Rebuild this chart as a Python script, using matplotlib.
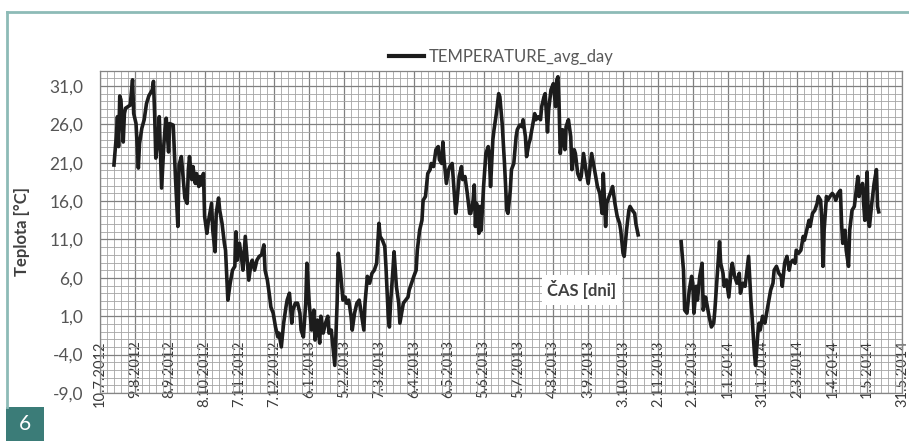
import numpy as np
import pandas as pd
import matplotlib
matplotlib.use("Agg")
import matplotlib.pyplot as plt
from matplotlib.lines import Line2D
from matplotlib.patches import Rectangle

start = pd.Timestamp("2012-07-10")
end = pd.Timestamp("2014-05-31")

# daily mean temperature; day = days after 10.7.2012, NaN marks the data gap
day = [12, 14, 15, 16, 17, 18, 20, 21, 22, 24, 26, 28, 29, 31, 33, 34, 36, 38, 40, 42,
       45, 46, 47, 48, 50, 51, 53, 55, 56, 57, 59, 60, 63, 64, 65, 67, 68, 70, 72, 73,
       75, 76, 77, 79, 80, 82, 83, 85, 86, 87, 89, 90, 92, 93, 95, 96, 97, 99, 100, 102,
       103, 105, 107, 108, 110, 112, 114, 116, 117, 118, 120, 122, 123, 125, 127, 128, 130, 131, 133, 135,
       137, 139, 141, 142, 144, 146, 147, 149, 151, 153, 154, 156, 158, 160, 161, 163, 165, 166, 168, 170,
       172, 173, 175, 177, 178, 180, 182, 184, 185, 187, 189, 190, 192, 194, 196, 197, 199, 201, 202, 204,
       205, 207, 209, 211, 212, 214, 216, 217, 219, 221, 223, 224, 227, 228, 230, 232, 234, 236, 238, 240,
       241, 243, 245, 246, 248, 249, 250, 252, 253, 255, 257, 258, 260, 261, 263, 265, 266, 268, 270, 272,
       273, 275, 277, 278, 280, 282, 284, 285, 287, 289, 291, 292, 294, 295, 296, 298, 300, 301, 303, 304,
       306, 307, 309, 311, 312, 314, 316, 318, 319, 321, 322, 323, 324, 326, 327, 328, 330, 332, 334, 335,
       336, 338, 339, 341, 343, 344, 346, 348, 350, 351, 353, 354, 356, 358, 359, 361, 363, 364, 366, 367,
       369, 370, 372, 374, 375, 377, 379, 380, 382, 383, 385, 386, 388, 390, 392, 393, 394, 395, 396, 398,
       400, 401, 403, 405, 406, 408, 409, 411, 413, 414, 416, 418, 420, 421, 423, 425, 427, 428, 430, 432,
       433, 435, 436, 438, 440, 441, 443, 445, 447, 448, 450, 451, 453, 455, 456, 458, 460, 461, 463, 480,
       500, 502, 503, 505, 507, 509, 510, 511, 513, 514, 516, 518, 519, 521, 522, 524, 526, 528, 529, 531,
       533, 534, 536, 537, 539, 541, 543, 544, 546, 548, 550, 551, 553, 555, 556, 558, 560, 561, 563, 564,
       566, 567, 568, 570, 572, 574, 575, 577, 579, 580, 582, 584, 586, 587, 589, 591, 593, 594, 596, 598,
       599, 601, 603, 605, 606, 608, 610, 611, 613, 615, 617, 618, 620, 621, 622, 623, 625, 626, 628, 630,
       632, 633, 635, 637, 638, 639, 641, 642, 644, 645, 647, 649, 650, 652, 653, 654, 656, 657, 658, 659,
       660, 661, 662, 664, 665, 666, 668, 669, 670]
temp = [20.7, 24.4, 27.0, 23.1, 29.7, 29.2, 23.7, 27.4, 28.1, 28.3, 28.5, 31.8, 27.4, 26.1, 20.3, 23.5, 25.5, 26.6, 28.7, 29.7,
        30.5, 31.6, 27.4, 21.6, 24.4, 27.0, 17.7, 23.5, 25.5, 26.8, 22.4, 26.1, 25.9, 22.2, 18.8, 12.7, 20.7, 21.8, 18.1, 16.4,
        15.7, 20.1, 21.8, 18.8, 20.5, 18.3, 19.6, 17.9, 19.2, 18.1, 19.6, 14.0, 11.8, 13.1, 14.8, 15.7, 12.2, 9.4, 14.4, 16.4,
        14.8, 13.1, 10.5, 9.6, 3.1, 5.3, 7.0, 7.5, 12.0, 8.3, 10.5, 8.3, 7.0, 11.4, 7.5, 5.7, 7.9, 8.3, 7.0, 8.3,
        8.8, 9.0, 10.3, 7.0, 5.7, 3.5, 2.2, 1.4, -0.4, -1.7, -1.2, -3.0, 0.1, 2.2, 3.1, 4.0, 0.1, 1.8, 2.7, 2.7,
        1.4, -0.8, -1.7, 2.7, 7.9, 2.7, -0.8, 1.8, -2.1, 0.5, -2.5, 1.0, -1.2, 0.1, 1.0, -1.2, -0.8, -3.8, -5.4, 2.7,
        9.2, 6.6, 3.1, 3.5, 2.7, 3.1, 1.0, -0.8, 1.4, 2.7, 3.1, 2.2, -0.8, 2.7, 6.2, 5.3, 6.6, 7.0, 7.9, 13.1,
        11.4, 10.9, 10.1, 7.5, 1.0, -0.4, 2.7, 7.0, 9.4, 4.9, 2.7, 0.1, 1.8, 2.7, 3.1, 3.5, 4.4, 5.3, 6.2, 7.0,
        9.6, 12.2, 13.5, 16.1, 16.6, 19.6, 20.1, 20.9, 20.5, 22.7, 23.1, 21.4, 20.9, 23.7, 21.4, 18.3, 20.1, 20.5, 20.9, 18.8,
        14.4, 15.7, 19.2, 20.5, 18.8, 19.2, 17.0, 14.4, 14.4, 16.1, 18.1, 12.7, 15.7, 11.8, 15.3, 12.2, 17.9, 22.2, 23.1, 21.8,
        17.9, 24.0, 25.3, 27.4, 30.0, 29.6, 26.1, 20.9, 14.8, 14.4, 17.4, 20.1, 20.9, 24.4, 25.3, 25.9, 25.7, 26.6, 24.4, 21.8,
        23.5, 24.0, 25.7, 27.4, 26.6, 27.0, 26.6, 28.3, 29.6, 30.0, 25.0, 27.9, 30.5, 31.3, 28.3, 31.8, 32.2, 28.3, 22.2, 25.3,
        22.7, 25.7, 26.6, 24.4, 20.1, 22.7, 22.2, 19.6, 18.8, 19.2, 22.2, 20.1, 18.3, 19.6, 22.2, 20.5, 18.8, 17.9, 17.0, 14.4,
        19.6, 12.7, 15.7, 16.6, 17.4, 17.9, 15.7, 14.0, 13.1, 12.2, 9.2, 8.8, 12.2, 14.8, 15.3, 14.8, 14.4, 13.1, 11.6, np.nan,
        10.7, 7.0, 1.8, 1.4, 4.4, 6.2, 5.3, 1.4, 4.9, 3.1, 6.2, 7.9, 1.8, 3.5, 2.7, 1.0, -0.4, 0.1, 1.8, 6.2,
        10.7, 7.9, 6.6, 4.9, 5.7, 3.5, 7.0, 7.9, 6.2, 5.3, 6.6, 4.0, 5.3, 4.9, 6.2, 8.8, 3.1, 1.0, -3.8, -5.4,
        -1.2, 0.1, -0.8, 1.0, 0.1, 1.8, 2.7, 4.4, 5.3, 7.0, 7.5, 6.6, 6.2, 4.9, 7.9, 8.8, 7.0, 7.9, 8.3, 7.9,
        9.6, 9.2, 9.6, 11.4, 10.9, 12.2, 13.5, 12.7, 14.4, 14.8, 15.7, 16.6, 16.1, 13.5, 7.5, 12.2, 16.6, 16.1, 16.6, 17.0,
        16.6, 16.1, 17.0, 17.4, 13.1, 10.5, 12.2, 9.6, 7.5, 12.2, 14.8, 15.3, 16.6, 19.2, 16.6, 17.4, 18.3, 15.7, 13.5, 16.6,
        19.8, 13.5, 12.7, 15.7, 17.0, 18.3, 20.1, 15.3, 14.6]

y_ticks = [-9, -4, 1, 6, 11, 16, 21, 26, 31]

dates = start + pd.to_timedelta(day, unit="D")
major = pd.date_range(start, end, freq="30D")
minor = pd.date_range(start, end, freq="6D")
x_labels = [f"{d.day}.{d.month}.{d.year}" for d in major]
y_labels = [f"{v:.1f}".replace(".", ",") for v in y_ticks]

plt.rcParams["font.family"] = ["Lato", "DejaVu Sans"]

W, H = 909, 441
fig = plt.figure(figsize=(W / 100, H / 100), dpi=100)
ax = fig.add_axes([100 / W, 1 - 393 / H, 802 / W, (393 - 70.6) / H])

ax.plot(dates, temp, color="#1c1c1c", lw=2.6, solid_joinstyle="round")

ax.set_xlim(start, end)
ax.set_ylim(-9, 33)
ax.set_xticks(major)
ax.set_xticklabels(x_labels)
ax.set_xticks(minor, minor=True)
ax.set_yticks(y_ticks)
ax.set_yticklabels(y_labels)
ax.set_yticks(np.arange(-9, 34, 1), minor=True)

ax.set_axisbelow(True)
ax.grid(which="major", color="#808080", lw=0.9)
ax.grid(which="minor", color="#a4a4a4", lw=0.6)
for s in ax.spines.values():
    s.set_color("#858585")
    s.set_linewidth(0.9)

ax.tick_params(axis="x", which="both", length=0)
ax.tick_params(axis="x", which="major", pad=-38, labelrotation=90,
               labelsize=10.5, labelcolor="#3a3a3a")
ax.tick_params(axis="y", which="both", length=0)
ax.tick_params(axis="y", which="major", pad=12, labelsize=12.5, labelcolor="#555555")

ax.text(0.601, 0.32, "ČAS [dni]", transform=ax.transAxes, ha="center", va="center",
        fontsize=12, fontweight="bold", color="#404040",
        bbox=dict(facecolor="white", edgecolor="none", pad=4))

fig.text(22 / W, 1 - 232 / H, "Teplota [°C]", rotation=90, ha="center", va="center",
         fontsize=12, fontweight="bold", color="#404040")

fig.legend(handles=[Line2D([], [], color="#1c1c1c", lw=3)], labels=["TEMPERATURE_avg_day"],
           loc="center", bbox_to_anchor=(501 / W, 1 - 57 / H), frameon=False,
           fontsize=12, labelcolor="#595959", handlelength=2.1, handletextpad=0.3)

# teal frame and figure number
frame = "#8dbbb7"
fig.add_artist(Line2D([7 / W, 1], [1 - 12 / H, 1 - 12 / H], color=frame, lw=2))
fig.add_artist(Line2D([7.5 / W, 7.5 / W], [1 - 12 / H, 1 - 407 / H], color=frame, lw=2))
fig.add_artist(Rectangle((6 / W, 0), 38 / W, 34 / H, transform=fig.transFigure,
                         facecolor="#3b7c78", edgecolor="none"))
fig.text(25 / W, 17 / H, "6", color="white", fontsize=15, ha="center", va="center")

fig.savefig("out.png", dpi=100)
